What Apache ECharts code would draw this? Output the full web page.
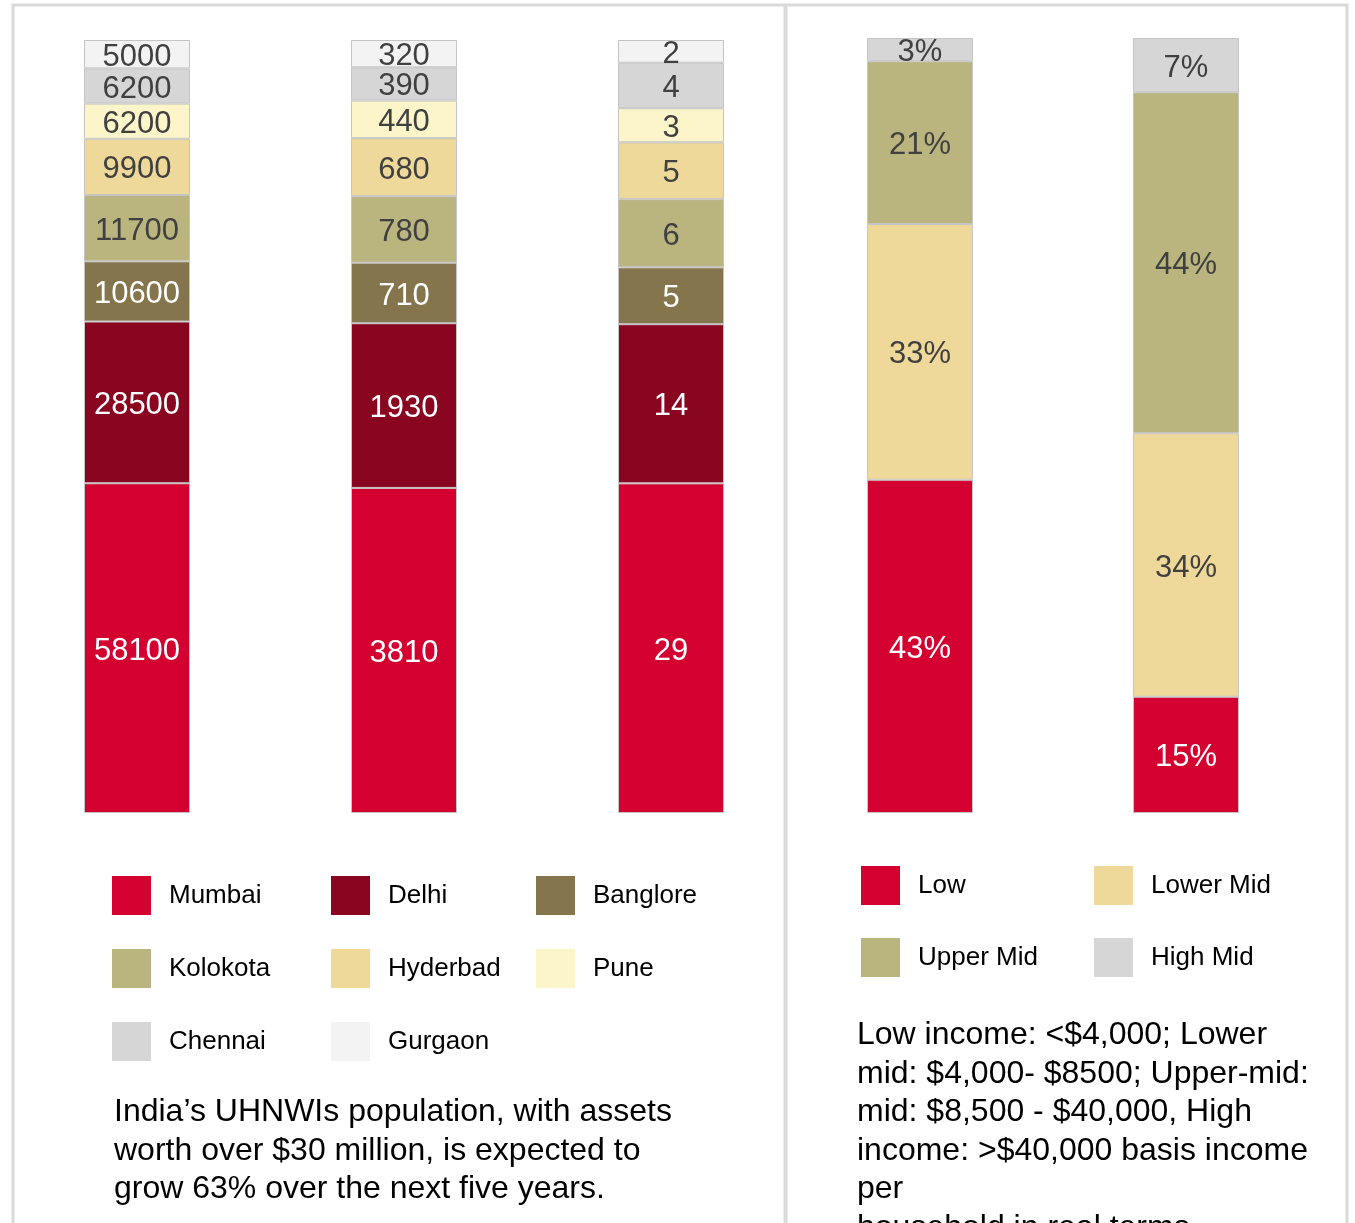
<!DOCTYPE html>
<html>
<head>
<meta charset="utf-8">
<script src="https://cdn.jsdelivr.net/npm/echarts@6/dist/echarts.min.js"></script>
<style>
html,body{margin:0;padding:0;background:#fff;}
#chart{width:1355px;height:1223px;}
</style>
</head>
<body>
<div id="chart"></div>
<script>
// ---- Data ----
const columns = ['Column 1', 'Column 2', 'Column 3'];
const cityNames = ['Mumbai', 'Delhi', 'Banglore', 'Kolokota', 'Hyderbad', 'Pune', 'Chennai', 'Gurgaon'];
const mumbai   = [58100, 3810, 29];
const delhi    = [28500, 1930, 14];
const banglore = [10600, 710, 5];
const kolokota = [11700, 780, 6];
const hyderbad = [9900, 680, 5];
const pune     = [6200, 440, 3];
const chennai  = [6200, 390, 4];
const gurgaon  = [5000, 320, 2];

const incomeColumns = ['Group A', 'Group B'];
const incomeNames = ['Low', 'Lower Mid', 'Upper Mid', 'High Mid'];
const low      = [43, 15];
const lowerMid = [33, 34];
const upperMid = [21, 44];
const highMid  = [3, 7];

const leftNote = "India\u2019s UHNWIs population, with assets\nworth over $30 million, is expected to\ngrow 63% over the next five years.";
const rightNote = "Low income: <$4,000; Lower\nmid: $4,000- $8500; Upper-mid:\nmid: $8,500 - $40,000, High\nincome: >$40,000 basis income\nper\nhousehold in real terms";

// ---- Styling ----
const cityValues = [mumbai, delhi, banglore, kolokota, hyderbad, pune, chennai, gurgaon];
const cityColors = ['#d30030', '#8a0620', '#85754d', '#bab47f', '#eed89a', '#fcf5c9', '#d6d6d6', '#f3f3f3'];
const cityLabelColors = ['#fff', '#fff', '#fff', '#404040', '#404040', '#404040', '#404040', '#404040'];
const incomeValues = [low, lowerMid, upperMid, highMid];
const incomeColors = ['#d30030', '#eed89a', '#bab47f', '#d6d6d6'];
const incomeLabelColors = ['#fff', '#404040', '#404040', '#404040'];

const totals = columns.map((c, i) => cityValues.reduce((s, arr) => s + arr[i], 0));

const FONT = 'Liberation Sans, Arial, sans-serif';

const series = [];
cityNames.forEach((name, k) => {
  series.push({
    name: name,
    type: 'bar',
    stack: 'city',
    xAxisIndex: 0, yAxisIndex: 0,
    barWidth: 106,
    data: cityValues[k].map((v, i) => ({ value: v / totals[i] * 100, raw: v })),
    itemStyle: { color: cityColors[k], borderColor: '#c4c4c4', borderWidth: 1 },
    label: {
      show: true, position: 'inside', offset: [0, 3],
      formatter: p => String(p.data.raw),
      color: cityLabelColors[k], fontSize: 31, fontFamily: FONT
    },
    emphasis: { disabled: true }
  });
});
incomeNames.forEach((name, k) => {
  series.push({
    name: name,
    type: 'bar',
    stack: 'income',
    xAxisIndex: 1, yAxisIndex: 1,
    barWidth: 106,
    data: incomeValues[k],
    itemStyle: { color: incomeColors[k], borderColor: '#c4c4c4', borderWidth: 1 },
    label: {
      show: true, position: 'inside', offset: [0, 3],
      formatter: p => p.value + '%',
      color: incomeLabelColors[k], fontSize: 31, fontFamily: FONT
    },
    emphasis: { disabled: true }
  });
});

// legends, one per item to form a grid
const legends = [];
function addLegend(name, left, top) {
  legends.push({
    data: [name], left: left, top: top, padding: 0,
    icon: 'rect', itemWidth: 39, itemHeight: 39,
    itemStyle: { borderWidth: 0 },
    textStyle: { fontSize: 26, color: '#000', fontFamily: FONT, padding: [0, 0, 0, 13] },
    selectedMode: true
  });
}
const lcols = [112, 331, 536], lrows = [876, 949, 1022];
cityNames.forEach((n, i) => addLegend(n, lcols[i % 3], lrows[Math.floor(i / 3)]));
const rcols = [861, 1094], rrows = [866, 938];
incomeNames.forEach((n, i) => addLegend(n, rcols[i % 2], rrows[Math.floor(i / 2)]));

const option = {
  backgroundColor: '#fff',
  animation: false,
  textStyle: { fontFamily: FONT },
  grid: [
    { left: 3.5, top: 40, width: 801, height: 773 },
    { left: 787, top: 38, width: 532, height: 775 }
  ],
  xAxis: [
    { type: 'category', gridIndex: 0, data: columns, show: false },
    { type: 'category', gridIndex: 1, data: incomeColumns, show: false }
  ],
  yAxis: [
    { type: 'value', gridIndex: 0, min: 0, max: 100, show: false },
    { type: 'value', gridIndex: 1, min: 0, max: 100, show: false }
  ],
  legend: legends,
  series: series,
  graphic: [
    { type: 'rect', z: -1, shape: { x: 13, y: 5, width: 772, height: 1240 },
      style: { fill: 'none', stroke: '#dadada', lineWidth: 3 } },
    { type: 'rect', z: -1, shape: { x: 786, y: 5, width: 561, height: 1240 },
      style: { fill: 'none', stroke: '#dadada', lineWidth: 3 } },
    { type: 'text', left: 114, top: 1093,
      style: { text: leftNote, fontSize: 32, lineHeight: 38.5, fill: '#000', fontFamily: FONT } },
    { type: 'text', left: 857, top: 1016,
      style: { text: rightNote, fontSize: 32, lineHeight: 38.5, fill: '#000', fontFamily: FONT } }
  ]
};

const chart = echarts.init(document.getElementById('chart'));
chart.setOption(option);
</script>
</body>
</html>
